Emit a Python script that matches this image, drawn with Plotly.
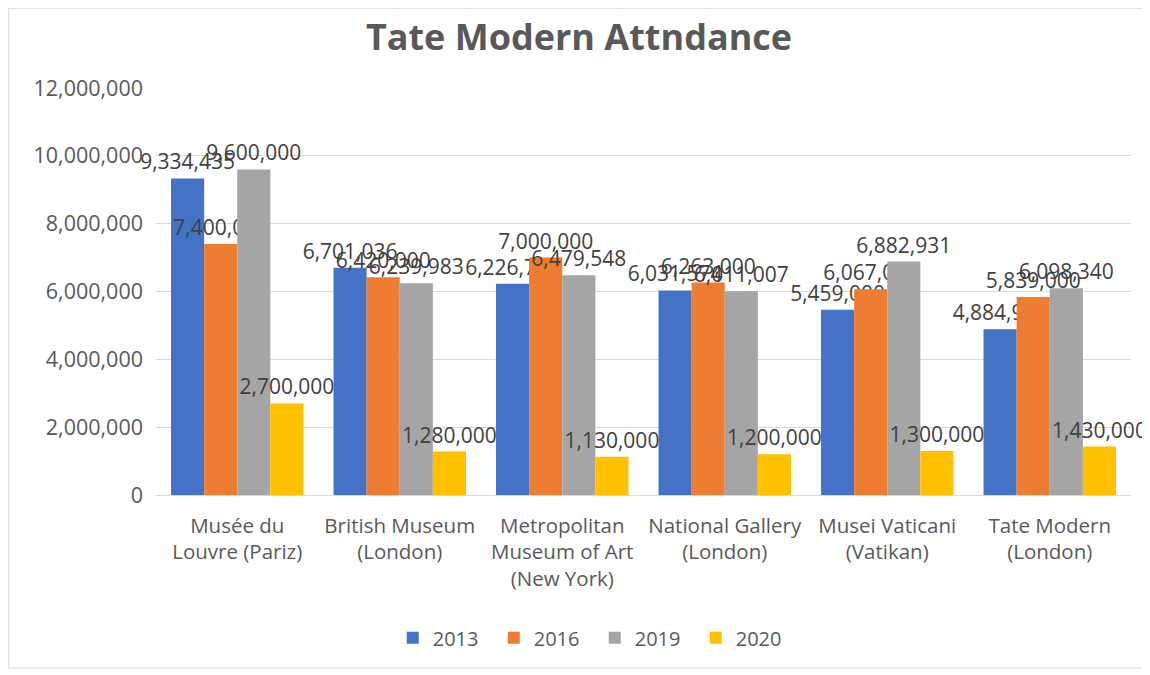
import plotly.graph_objects as go

categories = [
    "Musée du<br>Louvre (Pariz)",
    "British Museum<br>(London)",
    "Metropolitan<br>Museum of Art<br>(New York)",
    "National Gallery<br>(London)",
    "Musei Vaticani<br>(Vatikan)",
    "Tate Modern<br>(London)",
]
years = ["2013", "2016", "2019", "2020"]
v2013 = [9334435, 6701036, 6226727, 6031574, 5459000, 4884939]
v2016 = [7400000, 6420000, 7000000, 6263000, 6067000, 5839000]
v2019 = [9600000, 6239983, 6479548, 6011007, 6882931, 6098340]
v2020 = [2700000, 1280000, 1130000, 1200000, 1300000, 1430000]
series = [v2013, v2016, v2019, v2020]
colors = ["#4472C4", "#ED7D31", "#A5A5A5", "#FFC000"]
tick_vals = [0, 2000000, 4000000, 6000000, 8000000, 10000000, 12000000]
tick_text = ["0", "2,000,000", "4,000,000", "6,000,000", "8,000,000", "10,000,000", "12,000,000"]

FONT = "Open Sans, sans-serif"

fig = go.Figure()
for name, vals, col in zip(years, series, colors):
    fig.add_trace(go.Bar(
        name=name, x=categories, y=vals,
        marker=dict(color=col, line=dict(width=0)),
        text=[f"{v:,}" for v in vals],
        textposition="outside",
        constraintext="none",
        cliponaxis=False,
        textfont=dict(family=FONT, size=21, color="#404040"),
    ))

fig.update_layout(
    width=1142, height=667,
    paper_bgcolor="white", plot_bgcolor="white",
    barmode="group", bargap=0.185, bargroupgap=0,
    margin=dict(l=148, r=19, t=80, b=180),
    title=dict(text="<b>Tate Modern Attndance</b>", x=0.5, xanchor="center",
               y=0.9565, yanchor="middle",
               font=dict(family=FONT, size=36, color="#595959")),
    font=dict(family=FONT, color="#595959"),
    legend=dict(orientation="h", x=0.45, xanchor="center", y=-0.351, yanchor="middle",
                font=dict(size=20, color="#595959"), traceorder="normal",
                itemwidth=30, entrywidth=56, entrywidthmode="pixels"),
    xaxis=dict(showline=True, linecolor="#D9D9D9", linewidth=1, ticks="",
               tickfont=dict(size=20.5, color="#595959"), ticklabelstandoff=12),
    yaxis=dict(range=[0, 12000000], tickvals=tick_vals, ticktext=tick_text,
               showgrid=True, gridcolor="#D9D9D9", gridwidth=1, zeroline=False,
               tickfont=dict(size=21.5, color="#595959"), ticklabelstandoff=12),
    shapes=[dict(type="rect", xref="paper", yref="paper",
                 x0=-0.151, x1=1.0144, y0=-0.425, y1=1.196,
                 line=dict(color="#D9D9D9", width=1), fillcolor="rgba(0,0,0,0)")],
)

fig.write_html("out.html")
